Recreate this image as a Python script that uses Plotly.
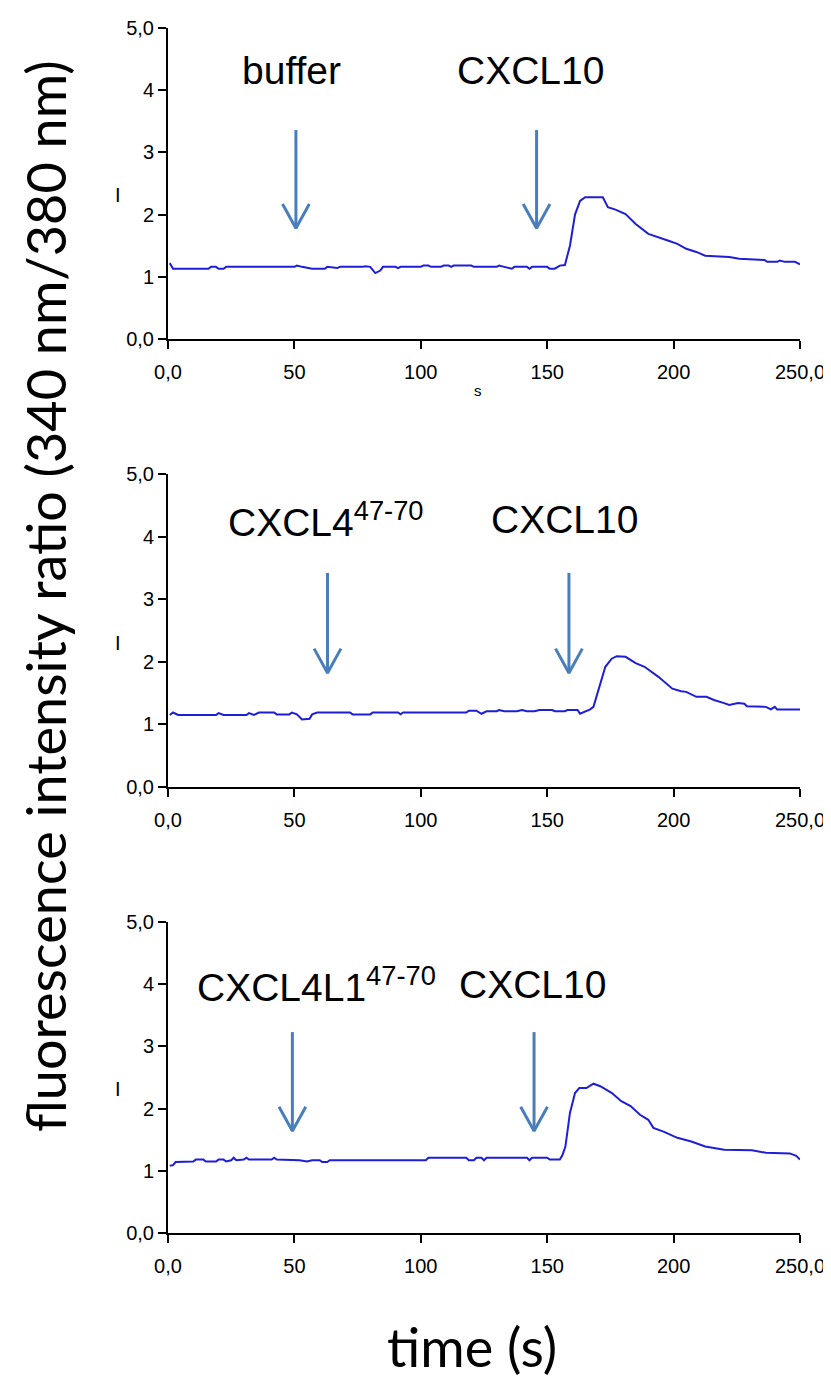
import plotly.graph_objects as go

# ---------------- data ----------------
x_tick_vals = [0, 50, 100, 150, 200, 250]
x_tick_text = ["0,0", "50", "100", "150", "200", "250,0"]
y_tick_vals = [0, 1, 2, 3, 4, 5]
y_tick_text = ["0,0", "1", "2", "3", "4", "5,0"]

# panel 1: buffer then CXCL10
t1 = [0.7, 2, 16, 17, 19, 20, 22, 23, 50, 51, 53, 57, 62, 63, 67, 68, 77, 78, 80, 81, 82, 84, 85,
      90, 91, 92, 100, 101, 103, 104, 108, 109, 111, 112, 113, 120, 121, 130, 131, 133, 136, 137,
      142, 143, 144, 150, 151, 153, 155, 157, 159, 161, 163, 165, 172, 174, 177, 181, 185, 190,
      194, 198, 201.5, 205, 209, 212.5, 222, 226, 236, 237, 241, 242, 244, 248, 250]
v1 = [1.22, 1.13, 1.13, 1.16, 1.16, 1.13, 1.13, 1.16, 1.16, 1.18, 1.16, 1.13, 1.13, 1.16, 1.14,
      1.16, 1.16, 1.17, 1.16, 1.10, 1.06, 1.10, 1.16, 1.16, 1.14, 1.16, 1.16, 1.18, 1.18, 1.16,
      1.16, 1.18, 1.18, 1.16, 1.18, 1.18, 1.16, 1.16, 1.18, 1.16, 1.13, 1.16, 1.16, 1.13, 1.16,
      1.16, 1.13, 1.13, 1.18, 1.19, 1.50, 2.00, 2.22, 2.28, 2.28, 2.12, 2.08, 2.01, 1.85, 1.69,
      1.64, 1.58, 1.53, 1.45, 1.40, 1.34, 1.32, 1.29, 1.27, 1.24, 1.24, 1.26, 1.24, 1.24, 1.20]

# panel 2: CXCL4(47-70) then CXCL10
t2 = [0.7, 2, 4, 19, 20, 22, 31, 32, 34, 36, 42, 43, 48, 49, 51, 53, 56, 57, 59, 72, 73, 80, 81,
      91, 92, 93, 118, 119, 122, 124, 126, 130, 131, 133, 138, 140, 142, 145, 147, 152, 153, 157,
      158, 162, 163, 165, 167, 168.3, 171, 173, 175.5, 177.5, 181, 185, 188.5, 194, 199.5, 203,
      205, 209, 213, 216, 220, 222, 225.5, 228, 229, 236.5, 238.5, 240, 241, 250]
v2 = [1.15, 1.19, 1.15, 1.15, 1.18, 1.15, 1.15, 1.18, 1.15, 1.19, 1.19, 1.16, 1.16, 1.19, 1.16,
      1.08, 1.09, 1.16, 1.19, 1.19, 1.16, 1.16, 1.19, 1.19, 1.16, 1.19, 1.19, 1.22, 1.22, 1.17,
      1.21, 1.21, 1.23, 1.21, 1.21, 1.23, 1.21, 1.21, 1.23, 1.23, 1.21, 1.21, 1.23, 1.23, 1.17,
      1.20, 1.24, 1.28, 1.65, 1.92, 2.05, 2.09, 2.08, 1.98, 1.92, 1.76, 1.57, 1.53, 1.52, 1.44,
      1.44, 1.39, 1.34, 1.31, 1.34, 1.33, 1.29, 1.28, 1.24, 1.28, 1.24, 1.24]

# panel 3: CXCL4L1(47-70) then CXCL10
t3 = [0.7, 2, 3, 10, 11, 14, 15, 19, 20, 22, 23, 25, 26, 27, 30, 31, 32, 41, 42, 43, 52, 55, 57,
      60, 61, 63, 64, 102, 103, 118, 119, 121, 122, 124, 125, 126, 142, 143, 144, 150, 151, 155,
      156, 157.2, 159, 161, 162.7, 165.5, 168.3, 171, 175.6, 179.3, 183, 186.7, 190, 192, 196,
      201.5, 207, 212.5, 220, 231, 236.5, 246, 248.5, 250]
v3 = [1.08, 1.09, 1.14, 1.15, 1.18, 1.18, 1.15, 1.15, 1.18, 1.18, 1.15, 1.17, 1.21, 1.17, 1.18,
      1.21, 1.18, 1.18, 1.21, 1.18, 1.17, 1.15, 1.17, 1.17, 1.14, 1.14, 1.17, 1.17, 1.21, 1.21,
      1.17, 1.17, 1.21, 1.21, 1.17, 1.21, 1.21, 1.17, 1.21, 1.21, 1.18, 1.18, 1.25, 1.39, 1.93,
      2.25, 2.33, 2.33, 2.40, 2.36, 2.25, 2.12, 2.04, 1.90, 1.82, 1.69, 1.63, 1.53, 1.47, 1.39,
      1.34, 1.33, 1.29, 1.28, 1.24, 1.18]

# arrow positions (time), arrow shaft top and tip (ratio)
arrow_t = [[50.6, 145.8], [63.1, 158.6], [49.2, 144.8]]
arrow_top = [3.36, 3.42, 3.23]
arrow_tip = [1.78, 1.82, 1.64]

# labels above arrows
label_text = [["buffer", "CXCL10"],
              ["CXCL4<sup>47-70</sup>", "CXCL10"],
              ["CXCL4L1<sup>47-70</sup>", "CXCL10"]]
label_t = [[48.8, 143.3], [62.6, 157.0], [58.8, 144.0]]
label_v = [4.31, 4.28, 3.99]

y_title = "fluorescence intensity ratio (340 nm/380 nm)"
x_title = "time (s)"

# ---------------- layout / styles ----------------
OFF = 8                      # page body margin of the html page
W, H = 831 - OFF, 1381 - OFF


def px_x(p):
    return (p - OFF) / W


def px_y(p):
    return 1 - (p - OFF) / H


x_dom = [px_x(168), px_x(800)]
panel_px = [(28, 339), (474, 787), (922, 1233)]  # (top, bottom) page pixel rows of plot areas
trace_color = "#1e1ed6"
arrow_color = "#4a7ebb"
tick_font = dict(family="Liberation Sans, Arial, sans-serif", size=20, color="black")
label_font = dict(family="Liberation Sans, Arial, sans-serif", size=39, color="black")
title_font = dict(family="Lato, Open Sans, sans-serif", size=54, color="black")

fig = go.Figure()
series = [(t1, v1), (t2, v2), (t3, v3)]
layout = dict(width=W, height=H, margin=dict(l=0, r=0, t=0, b=0, autoexpand=False),
              paper_bgcolor="white", plot_bgcolor="white", showlegend=False)
annotations = []

dx, dy = 5.3, 0.39
for i, (t, v) in enumerate(series):
    suf = "" if i == 0 else str(i + 1)
    xa, ya = "x" + suf, "y" + suf
    fig.add_trace(go.Scatter(x=t, y=v, mode="lines", xaxis=xa, yaxis=ya,
                             line=dict(color=trace_color, width=2), hoverinfo="skip"))
    ax, ay = [], []
    for at in arrow_t[i]:
        ax += [at, at, None, at - dx, at, at + dx, None]
        ay += [arrow_top[i], arrow_tip[i], None, arrow_tip[i] + dy, arrow_tip[i], arrow_tip[i] + dy, None]
    fig.add_trace(go.Scatter(x=ax, y=ay, mode="lines", xaxis=xa, yaxis=ya,
                             line=dict(color=arrow_color, width=3), hoverinfo="skip"))
    top_px, bot_px = panel_px[i]
    layout["xaxis" + suf] = dict(domain=x_dom, range=[0, 250], anchor=ya, automargin=False,
                                tickvals=x_tick_vals, ticktext=x_tick_text,
                                ticks="outside", ticklen=8, tickwidth=2, tickcolor="black",
                                ticklabelstandoff=6,
                                showline=True, linewidth=2, linecolor="black",
                                showgrid=False, zeroline=False, tickfont=tick_font)
    layout["yaxis" + suf] = dict(domain=[px_y(bot_px), px_y(top_px)], range=[0, 5], anchor=xa,
                                automargin=False,
                                tickvals=y_tick_vals, ticktext=y_tick_text,
                                ticks="outside", ticklen=8, tickwidth=2, tickcolor="black",
                                showline=True, linewidth=2, linecolor="black",
                                showgrid=False, zeroline=False, tickfont=tick_font)
    for txt, lt in zip(label_text[i], label_t[i]):
        annotations.append(dict(text=txt, x=lt, y=label_v[i], xref=xa, yref=ya,
                                showarrow=False, font=label_font,
                                xanchor="center", yanchor="middle"))
    # small "I" mark left of each y-axis
    annotations.append(dict(text="I", x=px_x(118), y=px_y(195 + (bot_px - 339)),
                            xref="paper", yref="paper", showarrow=False,
                            font=dict(family="Liberation Sans, Arial", size=20, color="black"),
                            xanchor="center", yanchor="middle"))

annotations.append(dict(text="s", x=px_x(478), y=px_y(390), xref="paper", yref="paper",
                        showarrow=False, font=dict(family="Liberation Sans, Arial", size=15, color="black"),
                        xanchor="center", yanchor="middle"))
annotations.append(dict(text=y_title, x=px_x(45), y=px_y(596), xref="paper", yref="paper",
                        showarrow=False, textangle=-90, font=title_font,
                        xanchor="center", yanchor="middle"))
annotations.append(dict(text=x_title, x=px_x(472), y=px_y(1346), xref="paper", yref="paper",
                        showarrow=False, font=title_font,
                        xanchor="center", yanchor="middle"))
layout["annotations"] = annotations
fig.update_layout(**layout)
fig.write_html("out.html")
